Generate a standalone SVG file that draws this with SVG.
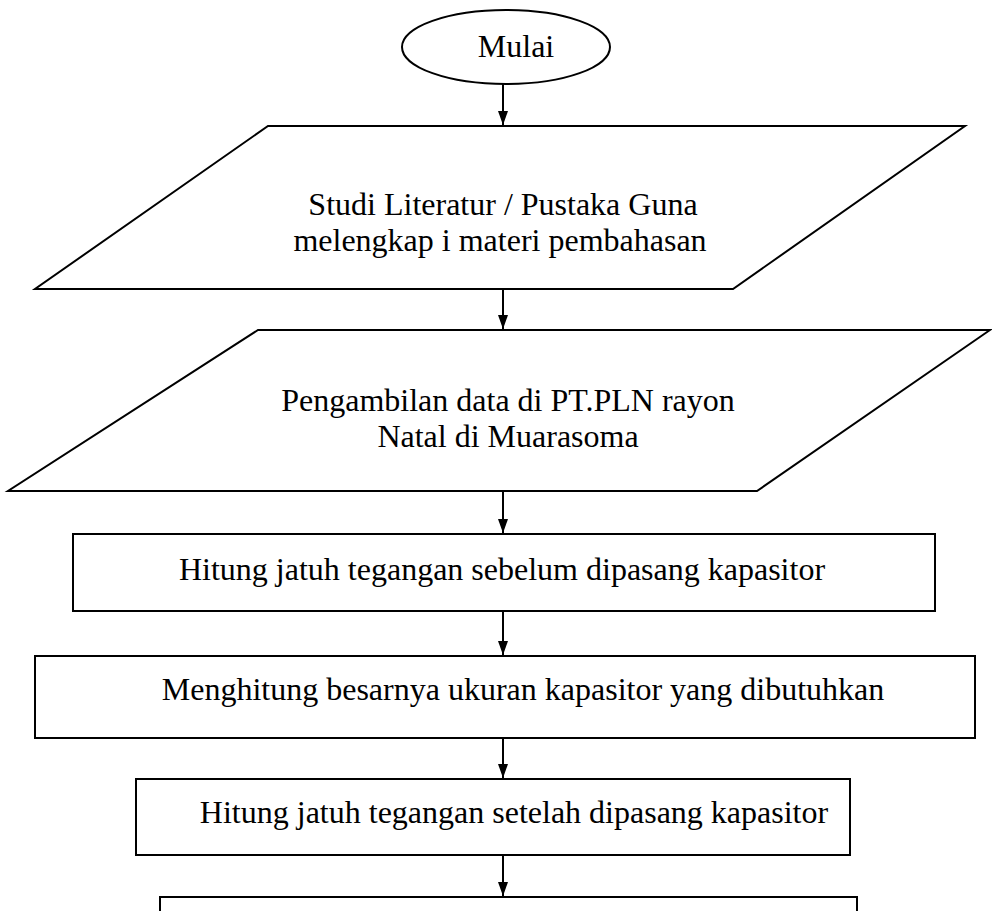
<svg xmlns="http://www.w3.org/2000/svg" width="992" height="911" viewBox="0 0 992 911">
<style>
.s{fill:#fff;stroke:#000;stroke-width:2}
.t{font-family:"Liberation Serif","Times New Roman",serif;font-size:32px;fill:#000;text-anchor:middle}
.c{stroke:#000;stroke-width:2;fill:none}
</style>
<defs>
<marker id="ar" viewBox="0 0 14 10" refX="14" refY="5" markerWidth="14" markerHeight="10" orient="auto" markerUnits="userSpaceOnUse">
<path d="M0,0 L14,5 L0,10 Z" fill="#000"/>
</marker>
</defs>
<rect width="992" height="911" fill="#fff"/>
<g id="mulai"><ellipse class="s" cx="506" cy="47" rx="104" ry="37"/><text class="t" x="516" y="57">Mulai</text></g>
<g id="studi"><polygon class="s" points="268,126 965,126 733,289 35,289"/><text class="t" x="503" y="215">Studi Literatur / Pustaka Guna</text><text class="t" x="500" y="251">melengkap i materi pembahasan</text></g>
<g id="data"><polygon class="s" points="258,330 990,330 757,491 8,491"/><text class="t" x="508" y="411">Pengambilan data di PT.PLN rayon</text><text class="t" x="508" y="447">Natal di Muarasoma</text></g>
<g id="hitung1"><rect class="s" x="73" y="534" width="862" height="77"/><text class="t" x="502" y="580">Hitung jatuh tegangan sebelum dipasang kapasitor</text></g>
<g id="menghitung"><rect class="s" x="35" y="656" width="940" height="82"/><text class="t" x="523" y="700">Menghitung besarnya ukuran kapasitor yang dibutuhkan</text></g>
<g id="hitung2"><rect class="s" x="136" y="779" width="714" height="76"/><text class="t" x="514" y="823">Hitung jatuh tegangan setelah dipasang kapasitor</text></g>
<g id="next"><rect class="s" x="160" y="897" width="697" height="40"/></g>
<g id="connectors">
<line class="c" x1="503" y1="84" x2="503" y2="125" marker-end="url(#ar)"/>
<line class="c" x1="503" y1="289" x2="503" y2="329" marker-end="url(#ar)"/>
<line class="c" x1="503" y1="491" x2="503" y2="533" marker-end="url(#ar)"/>
<line class="c" x1="503" y1="611" x2="503" y2="655" marker-end="url(#ar)"/>
<line class="c" x1="503" y1="738" x2="503" y2="778" marker-end="url(#ar)"/>
<line class="c" x1="503" y1="855" x2="503" y2="896" marker-end="url(#ar)"/>
</g>
</svg>
